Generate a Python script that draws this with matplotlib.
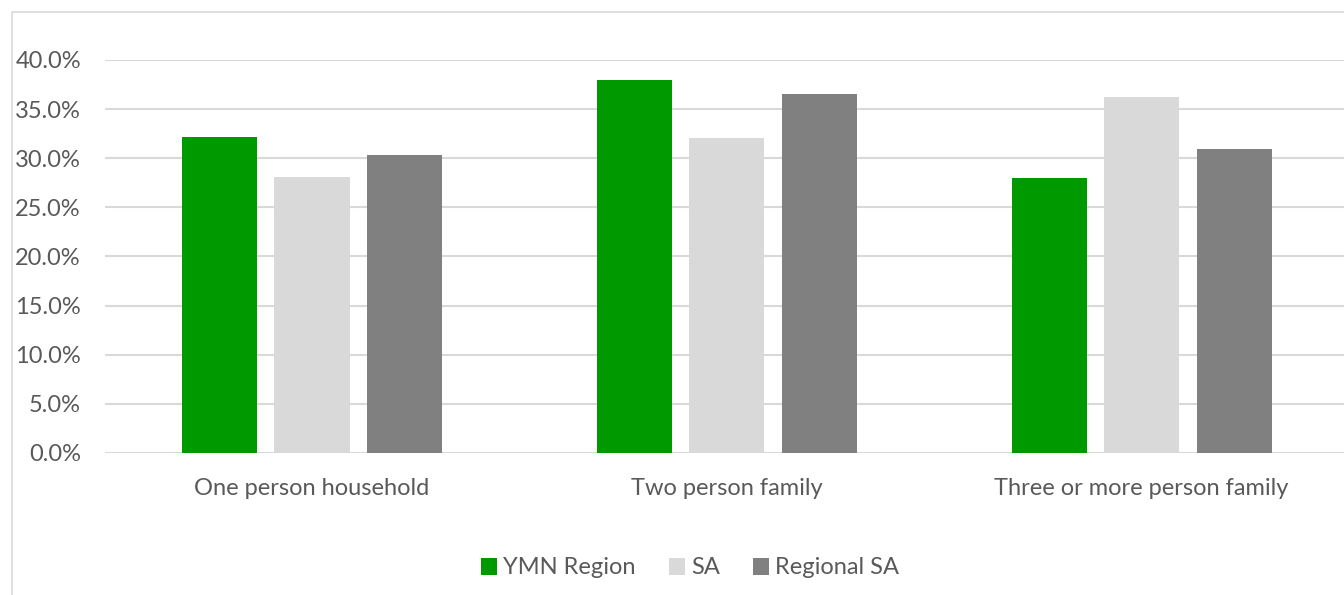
import numpy as np
import matplotlib.pyplot as plt
from matplotlib.patches import Rectangle
from matplotlib.ticker import FuncFormatter

categories = ['One person household', 'Two person family', 'Three or more person family']
ymn_region = [32.2, 38.0, 28.0]
sa = [28.1, 32.1, 36.2]
regional_sa = [30.3, 36.5, 30.9]

series = [('YMN Region', ymn_region, '#009900'),
          ('SA', sa, '#d9d9d9'),
          ('Regional SA', regional_sa, '#808080')]

plt.rcParams['font.family'] = ['Lato', 'DejaVu Sans']
text_color = '#595959'
fs = 17

fig = plt.figure(figsize=(13.44, 5.95), dpi=100)
ax = fig.add_axes([0.0778, 0.2387, 0.926, 0.6605])

# outer chart border
fig.patches.append(Rectangle((12 / 1344, -0.05), 1.1, 1 - 12 / 595 + 0.05,
                             transform=fig.transFigure, fill=False,
                             edgecolor='#d9d9d9', linewidth=1.2))

x = np.arange(len(categories))
width = 0.181
step = 0.223
for i, (name, vals, color) in enumerate(series):
    ax.bar(x + (i - 1) * step, vals, width, color=color, label=name, zorder=3)

ax.set_xlim(-0.5, len(categories) - 0.5)
ax.set_ylim(0, 40)
ax.set_yticks(np.arange(0, 41, 5))
ax.yaxis.set_major_formatter(FuncFormatter(lambda v, p: f'{v:.1f}%'))
ax.grid(axis='y', color='#d9d9d9', linewidth=1.5, zorder=0)
ax.set_xticks(x)
ax.set_xticklabels(categories)
for s in ax.spines.values():
    s.set_visible(False)
ax.tick_params(length=0, colors=text_color, labelsize=fs)
ax.tick_params(axis='x', pad=18)
ax.tick_params(axis='y', pad=17)

leg = fig.legend(loc='center', bbox_to_anchor=(690 / 1344, 1 - 568 / 595), ncol=3,
                 frameon=False, fontsize=fs, handlelength=0.7, handleheight=0.7,
                 handletextpad=0.25, columnspacing=1.4)
for t in leg.get_texts():
    t.set_color(text_color)

fig.savefig('out.png', dpi=100)
